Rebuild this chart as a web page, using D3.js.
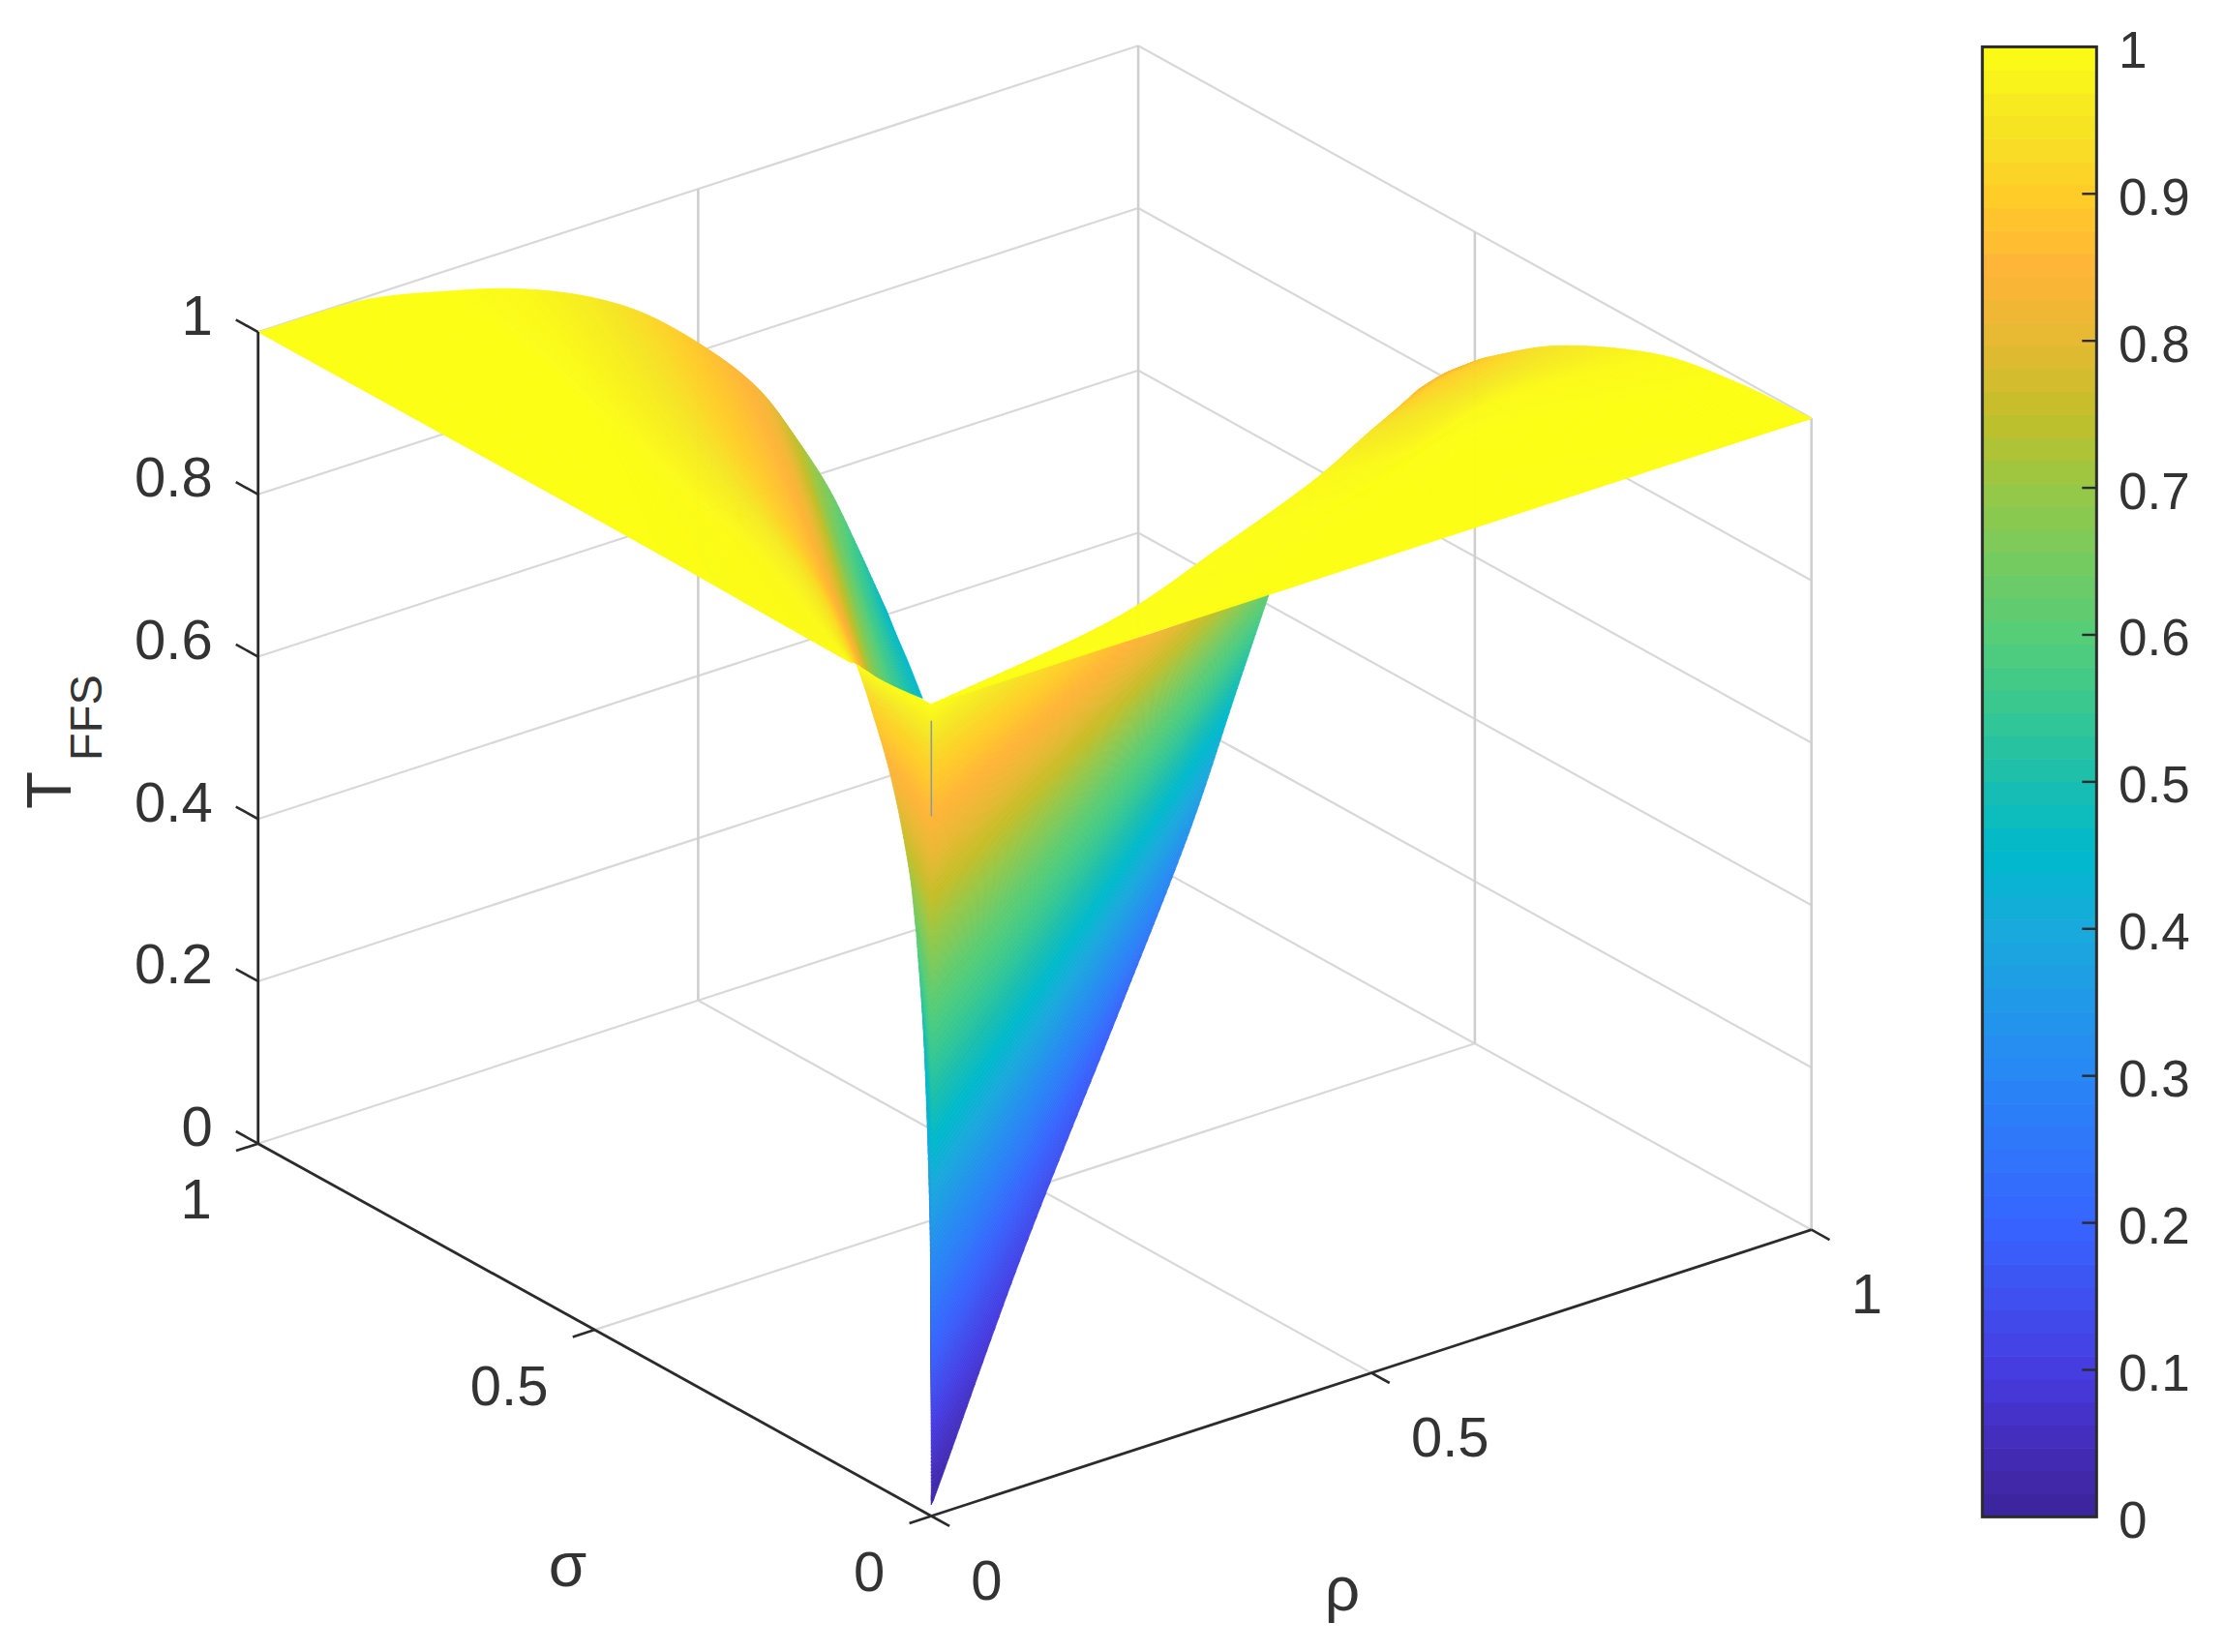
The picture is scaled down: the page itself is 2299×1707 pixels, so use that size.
<!DOCTYPE html>
<html><head><meta charset="utf-8">
<style>html,body{margin:0;background:#fff}svg{display:block}text{font-family:"Liberation Sans",Arial,sans-serif;fill:#333}</style>
<script src="https://cdn.jsdelivr.net/npm/d3@7"></script></head><body>
<script>
// ---- axis ticks
const rhoTicks=[0,0.5,1], sigmaTicks=[0,0.5,1], zTicks=[0,0.2,0.4,0.6,0.8,1];
const barTicks=[0,0.1,0.2,0.3,0.4,0.5,0.6,0.7,0.8,0.9,1];
// ---- colormap
const cmapStops=[0,0.05,0.1,0.2,0.3,0.4,0.45,0.5,0.55,0.6,0.7,0.75,0.8,0.85,0.9,0.95,1];
const cmapColors=["#3c239b","#442db9","#463ce1","#3764ff","#2887f5","#19aadc","#00b9cd","#19beaf","#37c891","#55cd78","#96c846","#c3be28","#e6b932","#ffb437","#ffcd28","#f5e623","#fcfe14"];
// ---- surface, front sheet below the two edges (rows of equal T; columns left, centre, right)
const sheetUpperT=[1,0.92,0.83,0.72,0.62];
const sheetUpperRho=[[0,0,0.004],[0.049,0.0143,0.229],[0.054,0.0077,0.433],[0.065,0.0114,0.639],[0.096,0.0246,0.788]];
const sheetUpperSigma=[[0.112,0,0.001],[0.159,0.0187,0.113],[0.13,0.01,0.232],[0.118,0.0148,0.389],[0.148,0.0321,0.527]];
const sheetLowerT=[0.62,0.48,0.33,0.2,0.12,0.03,0.005];
const sheetLowerRho=[[0.096,0.0246,0.788],[0.102,0.0062,0.786],[0.0342,0.0059,0.724],[0.0244,0.0066,0.586],[0.0136,0.0062,0.285],[0.0051,0.0051,0.012],[0.009,0.009,0.009]];
const sheetLowerSigma=[[0.148,0.0321,0.527],[0.144,0.0081,0.573],[0.0467,0.0077,0.563],[0.0329,0.0086,0.484],[0.0177,0.0081,0.235],[0.0067,0.0067,0.005],[0.012,0.012,0.012]];
// ---- surface, left wing
const leftWingT=[1,1,1,0.99,0.96,0.92,0.87,0.83,0.74,0.65,0.55,0.45];
const leftWingRho=[[0,0,0,0],[0,0.05,0.09,0.115],[0,0.1,0.165,0.188],[0.007,0.082,0.156,0.252],[0.041,0.128,0.222,0.324],[0.083,0.166,0.274,0.385],[0.136,0.215,0.328,0.435],[0.177,0.278,0.369,0.461],[0.271,0.363,0.446,0.519],[0.364,0.454,0.522,0.573],[0.47,0.535,0.584,0.626],[0.579,0.616,0.641,0.665]];
const leftWingSigma=[[1,1,1,1],[0.752,0.837,0.932,0.996],[0.436,0.629,0.8,0.965],[0.134,0.365,0.653,0.944],[0.171,0.378,0.668,0.933],[0.221,0.393,0.664,0.922],[0.285,0.438,0.662,0.888],[0.334,0.52,0.683,0.855],[0.449,0.607,0.75,0.877],[0.555,0.708,0.823,0.901],[0.666,0.78,0.864,0.93],[0.77,0.84,0.889,0.935]];
// ---- surface, right wing
const rightWingT=[1,1,1,0.99,0.95,0.9,0.86];
const rightWingRho=[[0,0.279,0.553,1],[0.238,0.412,0.626,1],[0.408,0.566,0.74,0.993],[0.571,0.676,0.814,0.984],[0.717,0.778,0.871,0.967],[0.822,0.856,0.9,0.954],[0.903,0.923,0.944,0.963]];
const rightWingSigma=[[0,0,0,0],[0.043,0.069,0.095,0],[0.106,0.122,0.16,0.1],[0.181,0.181,0.22,0.204],[0.288,0.293,0.309,0.329],[0.382,0.395,0.41,0.418],[0.457,0.464,0.47,0.472]];
// ---- thin seam at the corner rho=sigma=0
const seamT=[0.862,0.98];

const S=2299/1568, W=2299, H=1707;
// axis scales: each data axis contributes a screen displacement
const rhoX=d3.scaleLinear([0,1],[0,909.4]), rhoY=d3.scaleLinear([0,1],[0,-295.8]);
const sigX=d3.scaleLinear([0,1],[0,-695.6]), sigY=d3.scaleLinear([0,1],[0,-384.8]);
const zY=d3.scaleLinear([0,1],[0,-838.6]);
const X0=962.3, Y0=1566.5;
const P=(r,s,z)=>[X0+rhoX(r)+sigX(s), Y0+rhoY(r)+sigY(s)+zY(z)];
const color=d3.scaleLinear().domain(cmapStops).range(cmapColors).interpolate(d3.interpolateRgb).clamp(true);

const svg=d3.select("body").append("svg").attr("width",W).attr("height",H).attr("viewBox",`0 0 ${W} ${H}`);
const gridC="#d8d8d8", gridV="#cfcfcf", axisC="#2b2b2b";
const seg=(g,a,b,c,w)=>g.append("line").attr("x1",a[0]).attr("y1",a[1]).attr("x2",b[0]).attr("y2",b[1]).attr("stroke",c).attr("stroke-width",w);

// grid
const grid=svg.append("g");
zTicks.forEach(z=>{ seg(grid,P(0,1,z),P(1,1,z),gridC,2.2); seg(grid,P(1,1,z),P(1,0,z),gridC,2.2); });
[0.5].forEach(t=>{ seg(grid,P(t,0,0),P(t,1,0),gridC,2.2); seg(grid,P(0,t,0),P(1,t,0),gridC,2.2);
  seg(grid,P(t,1,0),P(t,1,1),gridV,2.6); seg(grid,P(1,t,0),P(1,t,1),gridV,2.6); });
seg(grid,P(1,1,0),P(1,1,1),gridV,2.6); seg(grid,P(1,0,0),P(1,0,1),gridV,2.6);

// Hermite through points with centripetal parameter
function hermite(pts){
  const n=pts.length, t=[0];
  for(let i=1;i<n;i++) t[i]=t[i-1]+Math.sqrt(Math.hypot(pts[i][0]-pts[i-1][0],pts[i][1]-pts[i-1][1]))+1e-3;
  const tan=i=>{const a=pts[Math.max(i-1,0)],b=pts[Math.min(i+1,n-1)],d=t[Math.min(i+1,n-1)]-t[Math.max(i-1,0)];return [(b[0]-a[0])/d,(b[1]-a[1])/d];};
  return (i,u)=>{ if(i>=n-1) return pts[n-1];
    const h=t[i+1]-t[i],m0=tan(i),m1=tan(i+1),u2=u*u,u3=u2*u;
    const c=k=>(2*u3-3*u2+1)*pts[i][k]+(u3-2*u2+u)*h*m0[k]+(-2*u3+3*u2)*pts[i+1][k]+(u3-u2)*h*m1[k];
    return [c(0),c(1)]; };
}
// strip shading between rows of equal T (interpolated shading)
function drawPatch(T,R,Sg,smooth,steps){
  const g=svg.append("g");
  const cols=R[0].length, rows=T.length;
  const colCurves=d3.range(cols).map(c=>hermite(d3.range(rows).map(r=>P(R[r][c],Sg[r][c],T[r]))));
  const rowAt=(i,u)=>{
    const pts=colCurves.map(f=>f(i,u));
    if(!smooth) return pts;
    const f=hermite(pts),out=[];
    for(let c=0;c<cols-1;c++) for(let k=0;k<8;k++) out.push(f(c,k/8));
    out.push(pts[cols-1]); return out; };
  const line=d3.line();
  for(let i=0;i<rows-1;i++){
    for(let k=0;k<steps;k++){
      const a=rowAt(i,k/steps), b=rowAt(i,(k+1)/steps);
      const t=T[i]+(T[i+1]-T[i])*(k+0.5)/steps;
      const col=color(t);
      g.append("path").attr("d",line(a.concat(b.slice().reverse()))+"Z").attr("fill",col).attr("stroke",col).attr("stroke-width",0.7);
    }
  }
}
drawPatch(sheetLowerT,sheetLowerRho,sheetLowerSigma,false,22);
drawPatch(sheetUpperT,sheetUpperRho,sheetUpperSigma,false,22);
seg(svg,P(0,0,seamT[0]),P(0,0,seamT[1]),"#8f9a9a",1.6);
drawPatch(leftWingT,leftWingRho,leftWingSigma,true,20);
drawPatch(rightWingT,rightWingRho,rightWingSigma,true,20);

// axes
const ax=svg.append("g");
seg(ax,P(0,1,0),P(0,0,0),axisC,2.8); seg(ax,P(0,0,0),P(1,0,0),axisC,2.8); seg(ax,P(0,1,0),P(0,1,1),axisC,2.8);
const tickZ=0.033, tickRho=0.027, tickSigma=0.025;
zTicks.forEach(z=>seg(ax,P(0,1,z),P(0,1+tickZ,z),axisC,2.6));
rhoTicks.forEach(r=>seg(ax,P(r,0,0),P(r,-tickRho,0),axisC,2.6));
sigmaTicks.forEach(s=>seg(ax,P(0,s,0),P(-tickSigma,s,0),axisC,2.6));

const fs=58;
const label=(x,y,t,anchor,size)=>svg.append("text").attr("x",x).attr("y",y).attr("text-anchor",anchor).attr("dominant-baseline","central").attr("font-size",size).text(t);
zTicks.forEach(z=>{const p=P(0,1,z);label(p[0]-47,p[1]-18,String(z),"end",fs);});
sigmaTicks.forEach(s=>{const p=P(0,s,0);label(p[0]-48,p[1]+57,String(s),"end",fs);});
rhoTicks.forEach(r=>{const p=P(r,0,0);label(p[0]+41,p[1]+66,String(r),"start",fs);});
label(400*S,1103*S,"σ","middle",64);
label(946*S,1120*S,"ρ","middle",64);
svg.append("text").attr("transform","translate(73,836) rotate(-90)").attr("font-size",64).text("T");
svg.append("text").attr("transform","translate(105,786) rotate(-90)").attr("font-size",47).text("FFS");

// colour bar
const barX0=1397*S, barX1=1477.5*S;
const barY=d3.scaleLinear([0,1],[1069*S,33*S]);
const levels=d3.range(64).map(i=>i/64);
svg.append("g").selectAll("rect").data(levels).join("rect")
  .attr("x",barX0).attr("width",barX1-barX0)
  .attr("y",d=>barY(d+1/64)).attr("height",d=>barY(d)-barY(d+1/64)+0.6)
  .attr("fill",d=>color(d+1/128));
svg.append("rect").attr("x",barX0).attr("y",barY(1)).attr("width",barX1-barX0).attr("height",barY(0)-barY(1)).attr("fill","none").attr("stroke",axisC).attr("stroke-width",3);
barTicks.forEach(t=>{
  if(t>0&&t<1) seg(svg,[barX1-15,barY(t)],[barX1,barY(t)],axisC,2.4);
  label(1493*S,barY(t)+3,String(t),"start",53);
});
</script></body></html>
